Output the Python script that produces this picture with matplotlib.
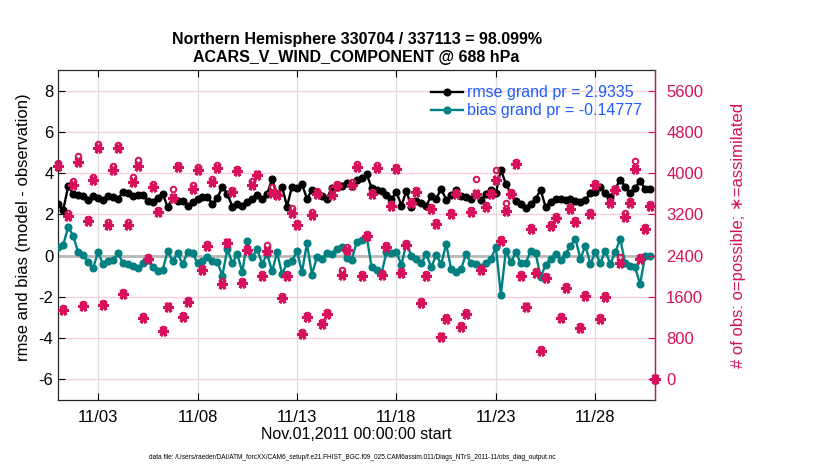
import numpy as np
import pandas as pd
import matplotlib
matplotlib.use('Agg')
import matplotlib.pyplot as plt
import matplotlib.dates as mdates

plt.rcParams['font.family'] = ['Liberation Sans', 'DejaVu Sans']
plt.rcParams['axes.unicode_minus'] = False

# 6-hourly bins starting Nov 1 2011 00Z
start_time = '2011-11-01 00:00'
n_bins = 121

rmse = [2.51, 2.22, 3.37, 3.00, 2.92, 2.87, 2.71, 2.87, 2.79, 2.71,
        2.87, 2.84, 2.76, 3.08, 3.03, 2.90, 2.92, 2.95, 2.63, 2.59,
        2.80, 3.00, 2.35, 2.80, 2.67, 2.67, 2.43, 2.59, 2.76, 2.84,
        2.84, 2.51, 2.80, 3.35, 3.00, 2.38, 2.48, 2.43, 2.59, 2.76,
        2.92, 2.76, 3.00, 3.70, 2.97, 3.35, 2.38, 3.35, 3.29, 3.48,
        2.76, 3.16, 3.08, 2.87, 2.76, 3.30, 3.35, 3.40, 3.50, 3.40,
        3.65, 3.75, 3.95, 3.30, 3.16, 3.13, 2.92, 2.76, 3.08, 2.43,
        3.13, 2.38, 2.67, 2.54, 2.43, 2.87, 2.76, 3.24, 2.71, 2.92,
        3.16, 2.87, 2.84, 2.76, 2.97, 2.71, 3.00, 3.19, 3.03, 4.17,
        3.48, 3.00, 2.67, 2.51, 2.32, 2.48, 2.76, 3.19, 2.35, 2.59,
        2.76, 2.76, 2.71, 2.76, 2.67, 2.59, 2.71, 3.03, 3.08, 3.35,
        3.03, 2.84, 3.24, 3.68, 3.35, 3.03, 3.29, 3.61, 3.24, 3.24]

bias = [0.41, 0.53, 1.38, 0.97, 0.16, 0.05, -0.32, -0.60, 0.16, -0.41,
        -0.26, -0.22, 0.12, -0.35, -0.41, -0.50, -0.61, -0.34, -0.22, -0.55,
        -0.73, -0.69, 0.22, -0.28, 0.11, -0.41, 0.16, 0.12, -0.36, -0.24,
        -0.08, -0.28, -0.32, -0.97, 0.32, -0.37, 0.08, -0.81, 0.70, -0.08,
        0.32, -0.41, 0.08, -0.76, 0.16, -0.89, -0.37, -0.28, 0.24, -0.81,
        0.60, -0.92, -0.08, -0.16, 0.11, 0.10, 0.30, 0.42, -0.10, -0.20,
        0.65, 0.75, 0.95, -0.55, -0.70, -0.85, 0.16, 0.11, 0.16, -0.44,
        0.57, 0.00, -0.16, -0.37, 0.08, -0.57, 0.03, -0.41, 0.57, -0.65,
        -0.81, -0.65, 0.08, -0.37, -0.41, -0.57, -0.37, -0.16, 0.41, -1.90,
        0.24, -0.32, 0.16, -0.37, -0.37, 0.24, 0.11, -1.05, -0.44, -0.16,
        0.08, -0.21, 0.08, 0.49, 0.81, -0.16, 0.49, -0.41, 0.16, -0.37,
        0.24, -0.41, 0.16, 0.81, -0.37, -0.49, -0.57, -1.38, 0.00, 0.00]

nused = [4131, 1343, 3165, 3774, 4215, 1421, 3068, 3872, 4494, 1441,
         3003, 4066, 4494, 1654, 3003, 3826, 4131, 1181, 2335, 3729,
         3243, 941, 1395, 3522, 4118, 1214, 1492, 3697, 4066, 2121,
         2582, 3826, 4105, 1849, 2640, 3632, 4040, 1862, 2517, 3774,
         3956, 2011, 2497, 3612, 3567, 1570, 2011, 3223, 3003, 877,
         1201, 3197, 3586, 1071, 1266, 3567, 3742, 2030, 2517, 3761,
         4118, 2011, 2776, 3599, 4105, 2030, 2562, 3372, 4073, 2056,
         2614, 3418, 3632, 1479, 1998, 3308, 3016, 812, 1168, 3210,
         3599, 1019, 1266, 3243, 3599, 2121, 3340, 3586, 3859, 2679,
         3275, 3599, 4170, 1998, 1395, 2919, 2063, 552, 1966, 2983,
         3126, 1188, 1771, 3308, 3048, 993, 1622, 3210, 3761, 1168,
         1603, 3424, 3664, 2251, 3146, 3424, 4086, 2335, 2919, 3353,
         0]

nposs = [4201, 1380, 3225, 3839, 4325, 1460, 3110, 3922, 4559, 1480,
         3045, 4131, 4539, 1690, 3045, 3926, 4248, 1220, 2370, 3781,
         3288, 980, 1430, 3697, 4163, 1250, 1530, 3762, 4118, 2160,
         2627, 3891, 4155, 1914, 2670, 3670, 4080, 1900, 2555, 3839,
         3988, 2050, 2607, 3729, 3605, 1610, 2050, 3320, 3040, 910,
         1240, 3240, 3651, 1110, 1300, 3697, 3794, 2121, 2562, 3826,
         4168, 2050, 2810, 3640, 4150, 2070, 2600, 3410, 4110, 2095,
         2650, 3455, 3670, 1515, 2035, 3345, 3055, 850, 1205, 3250,
         3640, 1055, 1300, 3280, 3878, 2160, 3380, 3625, 4053, 2715,
         3418, 3640, 4210, 2035, 1430, 2955, 2100, 590, 2000, 3020,
         3165, 1225, 1810, 3345, 3085, 1030, 1660, 3250, 3800, 1205,
         1640, 3460, 3700, 2368, 3230, 3460, 4235, 2375, 2955, 3405,
         0]

date_ticks = ['2011-11-03', '2011-11-08', '2011-11-13',
              '2011-11-18', '2011-11-23', '2011-11-28']

title_lines = ['Northern Hemisphere 330704 / 337113 = 98.099%',
               'ACARS_V_WIND_COMPONENT @ 688 hPa']
rmse_label = 'rmse grand pr = 2.9335'
bias_label = 'bias grand pr = -0.14777'
data_file = ('data file: /Users/raeder/DAI/ATM_forcXX/CAM6_setup/'
             'f.e21.FHIST_BGC.f09_025.CAM6assim.011/Diags_NTrS_2011-11/'
             'obs_diag_output.nc')

crimson = '#d6105a'
teal = '#008080'
times = pd.date_range(start_time, periods=n_bins, freq='6h')

fig = plt.figure(figsize=(8.3, 4.7), dpi=100)
ax = fig.add_axes([0.0702, 0.149, 0.719, 0.702])

# grids: pink horizontal (matches count axis), gray vertical
ax.set_axisbelow(True)
ax.grid(axis='y', color='#f6cfdf', linewidth=1.0)
ax.grid(axis='x', color='#dcdcdc', linewidth=0.9)
ax.axhline(0, color='#b8b8b8', linewidth=2.0, zorder=1)

l1, = ax.plot(times[:len(rmse)], rmse, '-o', color='black', linewidth=1.7,
              markersize=4.8, label=rmse_label, zorder=3)
l2, = ax.plot(times[:len(bias)], bias, '-o', color=teal, linewidth=1.7,
              markersize=4.8, label=bias_label, zorder=3)

ax.set_xlim(times[0], times[-1])
ax.set_ylim(-7, 9)
ax.set_yticks(np.arange(-6, 9, 2))
ax.set_xticks(pd.to_datetime(date_ticks))
ax.xaxis.set_major_formatter(mdates.DateFormatter('%m/%d'))
ax.tick_params(axis='both', direction='in', labelsize=12, length=5,
               top=True, width=0.8)
ax.tick_params(axis='x', pad=7)
for s in ['left', 'top', 'bottom']:
    ax.spines[s].set_color('#262626')
    ax.spines[s].set_linewidth(0.9)
ax.set_ylabel('rmse and bias (model - observation)', fontsize=12)
ax.yaxis.set_label_coords(-0.045, 0.525)
ax.set_xlabel('Nov.01,2011 00:00:00 start', fontsize=11.5, labelpad=2)
ax.set_title('\n'.join(title_lines), fontsize=11.5, fontweight='bold', pad=6)

leg = ax.legend(handles=[l1, l2], loc='upper right', frameon=False,
                fontsize=11.5, handlelength=2.0, handletextpad=0.25,
                borderaxespad=0.55, labelspacing=0.2,
                bbox_to_anchor=(1.003, 1.0))
for t in leg.get_texts():
    t.set_color('#1f5bff')

# observation counts on the right axis
ax2 = ax.twinx()
ax2.plot(times, nused, linestyle='none', marker=(6, 2, 30), markersize=7.5,
         markeredgewidth=2.2, color=crimson, clip_on=False, zorder=4)
ax2.plot(times, nposs, linestyle='none', marker='o', markersize=4.0,
         markeredgewidth=1.4, markerfacecolor='none', color=crimson,
         clip_on=False, zorder=5)
ax2.set_ylim(-400, 6000)
ax2.set_yticks(np.arange(0, 5601, 800))
ax2.tick_params(axis='y', direction='in', colors=crimson, labelsize=12,
                length=5, pad=8)
ax2.spines['right'].set_color(crimson)
ax2.spines['right'].set_linewidth(1.0)
for s in ['left', 'top', 'bottom']:
    ax2.spines[s].set_visible(False)
ax2.set_ylabel('# of obs: o=possible; \u2217=assimilated', color=crimson,
               fontsize=12, labelpad=20)

fig.text(0.424, 0.027, data_file, fontsize=4.7, ha='center', va='center')

fig.savefig('out.png', dpi=100)
